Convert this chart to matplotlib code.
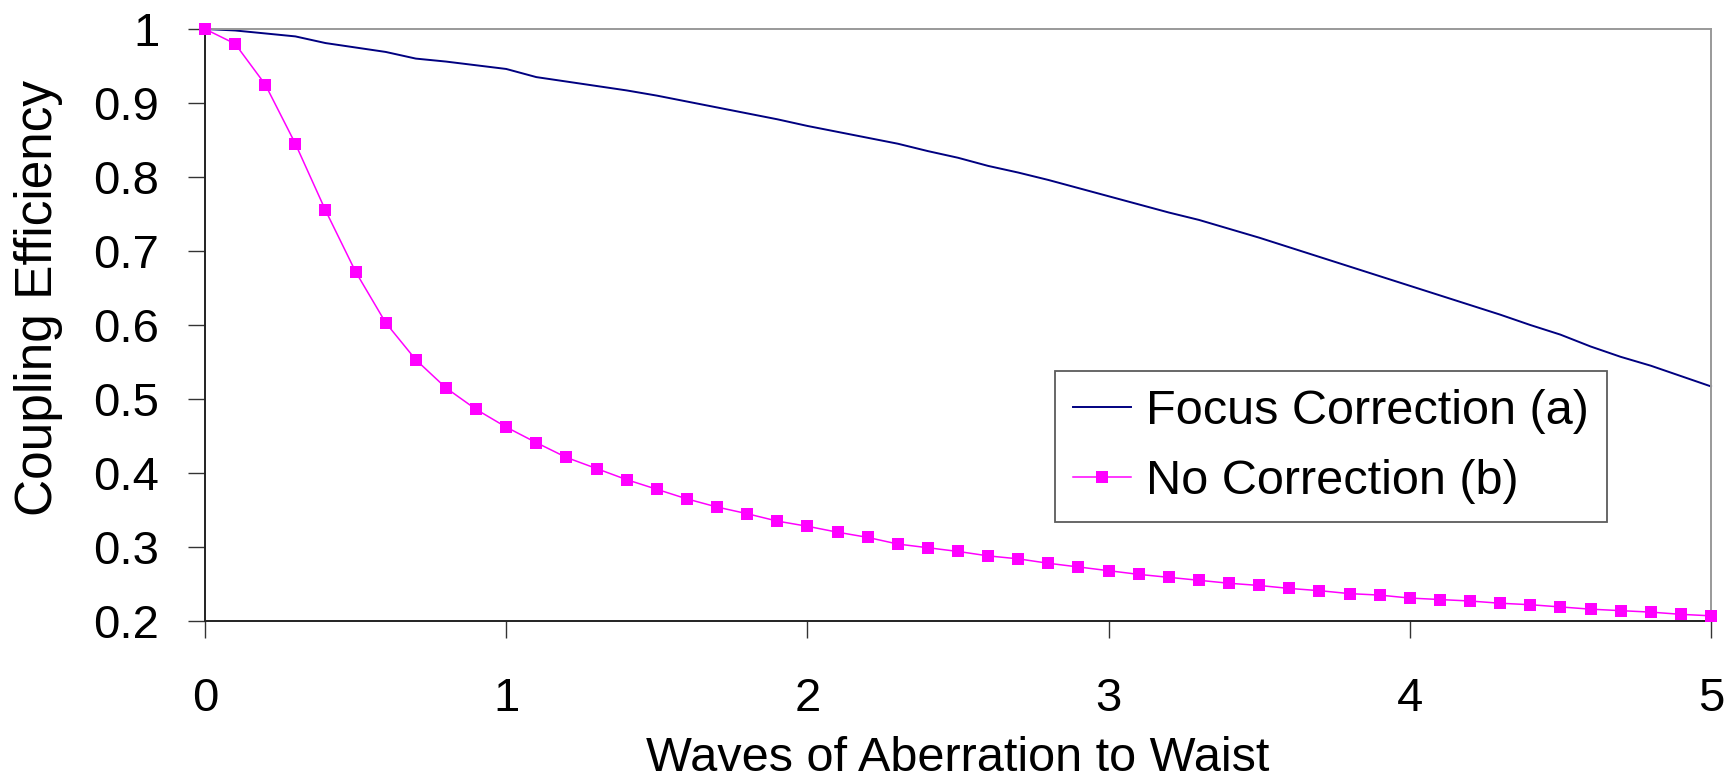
import numpy as np
import matplotlib.pyplot as plt

# waves of aberration (x) and coupling efficiency for both cases
waves = [round(0.1 * i, 1) for i in range(51)]

focus_corr = [1.000, 0.998, 0.994, 0.990, 0.981, 0.975, 0.969, 0.960, 0.956, 0.951,
              0.946, 0.935, 0.929, 0.923, 0.917, 0.910, 0.902, 0.894, 0.886, 0.878,
              0.869, 0.861, 0.853, 0.845, 0.835, 0.826, 0.815, 0.806, 0.796, 0.785,
              0.774, 0.763, 0.752, 0.742, 0.730, 0.718, 0.705, 0.692, 0.679, 0.666,
              0.653, 0.640, 0.627, 0.614, 0.600, 0.587, 0.571, 0.557, 0.545, 0.531,
              0.517]

no_corr = [1.000, 0.980, 0.925, 0.845, 0.755, 0.672, 0.603, 0.553, 0.515, 0.486,
           0.462, 0.441, 0.421, 0.406, 0.391, 0.378, 0.365, 0.354, 0.345, 0.335,
           0.328, 0.320, 0.313, 0.304, 0.299, 0.294, 0.288, 0.284, 0.278, 0.273,
           0.268, 0.263, 0.259, 0.255, 0.251, 0.248, 0.244, 0.241, 0.237, 0.235,
           0.231, 0.229, 0.227, 0.224, 0.222, 0.219, 0.216, 0.214, 0.212, 0.209,
           0.207]

x_ticks = [0, 1, 2, 3, 4, 5]
y_ticks = [0.2, 0.3, 0.4, 0.5, 0.6, 0.7, 0.8, 0.9, 1.0]
y_labels = ['0.2', '0.3', '0.4', '0.5', '0.6', '0.7', '0.8', '0.9', '1']

plt.rcParams['font.family'] = ['Liberation Sans', 'DejaVu Sans']

W, H = 1732, 780
fig = plt.figure(figsize=(W / 100, H / 100), dpi=100)
ax = fig.add_axes([205 / W, 1 - 621 / H, (1711 - 205) / W, (621 - 29) / H])

ax.plot(waves, focus_corr, color='#000080', lw=1.4, label='Focus Correction (a)', clip_on=False)
ax.plot(waves, no_corr, color='#FF00FF', lw=1.1, marker='s', ms=8.6, mew=0,
        label='No Correction (b)', clip_on=False, zorder=3)

ax.set_xlim(0, 5)
ax.set_ylim(0.2, 1)
ax.set_xticks(x_ticks)
ax.set_yticks(y_ticks)
ax.set_yticklabels(y_labels)
ax.tick_params(axis='both', labelsize=34, length=12, width=1.0, color='#333333', direction='out')
ax.tick_params(axis='x', pad=28)
ax.tick_params(axis='y', pad=21)

for s in ['top', 'right']:
    ax.spines[s].set_color('#999999')
    ax.spines[s].set_linewidth(1.4)
for s in ['left', 'bottom']:
    ax.spines[s].set_color('#222222')
    ax.spines[s].set_linewidth(1.4)

fig.text(958 / W, 9 / H, 'Waves of Aberration to Waist', fontsize=35,
         ha='center', va='baseline')
fig.text(52 / W, 1 - 298 / H, 'Coupling Efficiency', fontsize=37,
         ha='center', va='baseline', rotation=90, rotation_mode='anchor')

leg = ax.legend(loc='upper left', bbox_to_anchor=(1055 / W, 1 - 371 / H),
                bbox_transform=fig.transFigure, fontsize=35, frameon=True, fancybox=False,
                edgecolor='#333333', handlelength=1.2, handletextpad=0.3,
                borderpad=0.37, labelspacing=0.52, borderaxespad=0)
leg.get_frame().set_linewidth(1.3)

fig.savefig('out.png', dpi=100)
